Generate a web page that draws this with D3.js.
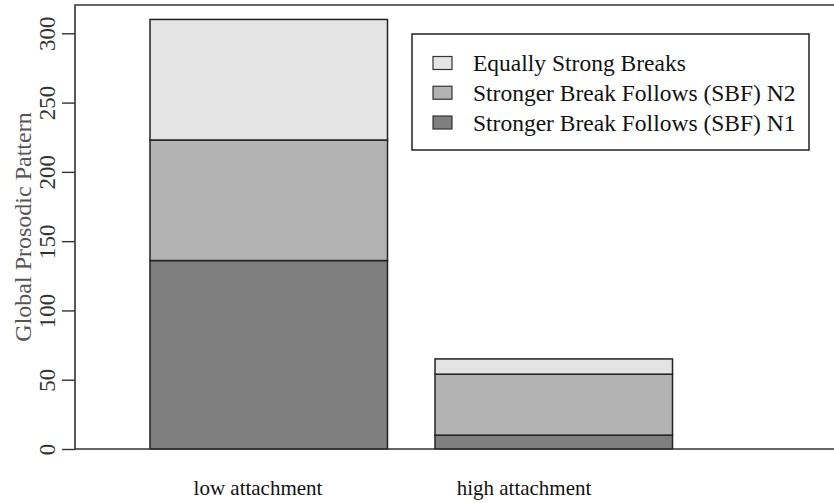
<!DOCTYPE html>
<html>
<head>
<meta charset="utf-8">
<script src="https://cdn.jsdelivr.net/npm/d3@7"></script>
<style>
  html, body { margin: 0; padding: 0; background: #fff; }
  svg { display: block; }
  text { font-family: "Liberation Serif", "Times New Roman", serif; }
</style>
</head>
<body>
<svg id="chart" width="834" height="503"></svg>
<script>
// ---- data ----
const categories = ["low attachment", "high attachment"];
const seriesNames = ["Stronger Break Follows (SBF) N1", "Stronger Break Follows (SBF) N2", "Equally Strong Breaks"];
const sbfN1 = [136, 10];
const sbfN2 = [87, 44];
const equallyStrong = [87, 11];
const yTicks = [0, 50, 100, 150, 200, 250, 300];
const seriesColors = ["#7f7f7f", "#b3b3b3", "#e4e4e4"];

// ---- layout ----
const plot = { left: 75, top: 5, right: 834, bottom: 449 };

const svg = d3.select("#chart");

const rows = categories.map((c, i) => ({
  cat: c,
  [seriesNames[0]]: sbfN1[i],
  [seriesNames[1]]: sbfN2[i],
  [seriesNames[2]]: equallyStrong[i]
}));
const stacked = d3.stack().keys(seriesNames)(rows);

const x = d3.scaleBand().domain(categories).range([150, 672.5]).paddingInner(1 / 6).paddingOuter(0);
const xLabel = d3.scalePoint().domain(categories).range([258, 524]);
const y = d3.scaleLinear().domain([0, 300]).range([449, 33.3]);
const color = d3.scaleOrdinal().domain(seriesNames).range(seriesColors);

// bars
const g = svg.append("g");
stacked.forEach(layer => {
  g.selectAll(null).data(layer).enter().append("rect")
    .attr("x", d => x(d.data.cat))
    .attr("width", x.bandwidth())
    .attr("y", d => y(d[1]))
    .attr("height", d => y(d[0]) - y(d[1]))
    .attr("fill", color(layer.key))
    .attr("stroke", "#222")
    .attr("stroke-width", 1.5);
});

// box (cropped on the right)
svg.append("path")
  .attr("d", `M${plot.right},${plot.top}H${plot.left}V${plot.bottom}H${plot.right}`)
  .attr("fill", "none").attr("stroke", "#333").attr("stroke-width", 1.6);

// y axis
const yAxis = svg.append("g")
  .attr("transform", `translate(${plot.left},0)`)
  .call(d3.axisLeft(y).tickValues(yTicks).tickSize(13).tickSizeOuter(0));
yAxis.select(".domain").remove();
yAxis.selectAll(".tick line").attr("stroke", "#333").attr("stroke-width", 1.4);
yAxis.selectAll(".tick text")
  .attr("transform", "rotate(-90)")
  .attr("x", 0).attr("y", -20).attr("dy", 0)
  .attr("text-anchor", "middle")
  .attr("fill", "#333")
  .style("font-size", "23px")
  .style("font-family", "'Liberation Serif', serif");

// y label
svg.append("text")
  .attr("transform", `translate(31,${(plot.top + plot.bottom) / 2}) rotate(-90)`)
  .attr("text-anchor", "middle")
  .attr("fill", "#555")
  .style("font-size", "24px")
  .text("Global Prosodic Pattern");

// category labels
svg.selectAll(".cat").data(categories).enter().append("text")
  .attr("class", "cat")
  .attr("x", d => xLabel(d))
  .attr("y", 495)
  .attr("text-anchor", "middle")
  .attr("fill", "#111")
  .style("font-size", "21px")
  .text(d => d);

// legend
const legendOrder = seriesNames.slice().reverse();
const lg = svg.append("g");
lg.append("rect")
  .attr("x", 412).attr("y", 34).attr("width", 397).attr("height", 116)
  .attr("fill", "#fff").attr("stroke", "#222").attr("stroke-width", 1.5);
const ly = d3.scalePoint().domain(legendOrder).range([63, 122.5]);
const items = lg.selectAll(".li").data(legendOrder).enter().append("g")
  .attr("transform", d => `translate(0,${ly(d)})`);
items.append("rect")
  .attr("x", 433).attr("y", -6.5).attr("width", 19).attr("height", 13)
  .attr("fill", d => color(d)).attr("stroke", "#333").attr("stroke-width", 1.2);
items.append("text")
  .attr("x", 473).attr("y", 0).attr("dy", "0.35em")
  .attr("fill", "#111")
  .style("font-size", "23.5px")
  .text(d => d);
</script>
</body>
</html>
